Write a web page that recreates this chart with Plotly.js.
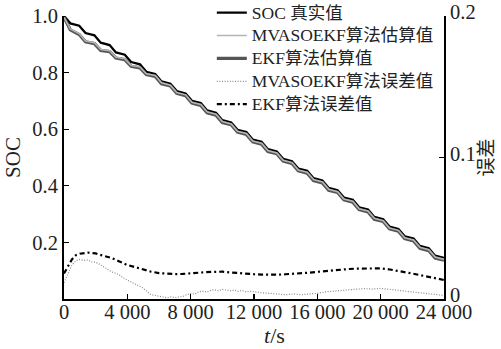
<!DOCTYPE html>
<html>
<head>
<meta charset="utf-8">
<script src="https://cdn.plot.ly/plotly-3.0.1.min.js"></script>
<style>
html,body{margin:0;padding:0;background:#fff;}
#chart{width:501px;height:349px;}
</style>
</head>
<body>
<div id="chart"></div>
<script>
// ---- data ----
const seriesNames = ["SOC 真实值", "MVASOEKF算法估算值", "EKF算法估算值", "MVASOEKF算法误差值", "EKF算法误差值"];

// SOC curves (corner points of the stepped discharge)
const tSoc = [0,400,960,1360,1920,2320,2880,3280,3840,4240,4800,5200,5760,6160,6720,7120,7680,8080,8640,9040,
  9600,10000,10560,10960,11520,11920,12480,12880,13440,13840,14400,14800,15360,15760,16320,16720,17280,17680,
  18240,18640,19200,19600,20160,20560,21120,21520,22080,22480,23040,23440,24000];

const socTrue = [1.0000,0.9740,0.9658,0.9398,0.9316,0.9056,0.8974,0.8714,0.8632,0.8372,0.8290,0.8030,0.7948,0.7688,
  0.7606,0.7346,0.7264,0.7004,0.6922,0.6662,0.6580,0.6320,0.6238,0.5978,0.5896,0.5636,0.5554,0.5294,0.5212,0.4952,
  0.4870,0.4610,0.4528,0.4268,0.4186,0.3926,0.3844,0.3584,0.3502,0.3242,0.3160,0.2900,0.2818,0.2558,0.2476,0.2216,
  0.2134,0.1874,0.1792,0.1532,0.1450];

const socMva = [0.9950,0.9540,0.9378,0.9118,0.9056,0.8816,0.8774,0.8544,0.8492,0.8252,0.8200,0.7960,0.7898,0.7638,
  0.7556,0.7296,0.7214,0.6954,0.6872,0.6612,0.6530,0.6270,0.6188,0.5928,0.5846,0.5586,0.5504,0.5244,0.5162,0.4902,
  0.4820,0.4560,0.4478,0.4218,0.4136,0.3876,0.3794,0.3534,0.3452,0.3192,0.3110,0.2850,0.2768,0.2508,0.2426,0.2166,
  0.2084,0.1824,0.1742,0.1482,0.1400];

const socEkf = [0.9950,0.9510,0.9348,0.9088,0.9026,0.8786,0.8744,0.8514,0.8462,0.8222,0.8170,0.7930,0.7868,0.7608,
  0.7526,0.7266,0.7184,0.6924,0.6842,0.6582,0.6500,0.6240,0.6158,0.5898,0.5816,0.5556,0.5474,0.5214,0.5132,0.4872,
  0.4790,0.4530,0.4448,0.4188,0.4106,0.3846,0.3764,0.3504,0.3422,0.3162,0.3080,0.2820,0.2738,0.2478,0.2396,0.2136,
  0.2054,0.1794,0.1712,0.1452,0.1370];

// error curves (right axis)
const tErrMva = [0,250,500,750,1000,1250,1500,1750,2000,2250,2500,2750,3000,3250,3500,3750,4000,4250,4500,4750,
  5000,5250,5500,5750,6000,6250,6500,6750,7000,7250,7500,7750,8000,8250,8500,8750,9000,9250,9500,9750,10000,
  10250,10500,10750,11000,11250,11500,11750,12000,12500,13000,13500,14000,14500,15000,15500,16000,16500,17000,
  17500,18000,18500,19000,19500,20000,20500,21000,21500,22000,22500,23000,23500,24000];
const errMva = [0.0115,0.0180,0.0240,0.0270,0.0280,0.0272,0.0276,0.0262,0.0260,0.0245,0.0228,0.0215,0.0192,0.0182,
  0.0170,0.0148,0.0135,0.0122,0.0106,0.0092,0.0077,0.0052,0.0030,0.0026,0.0018,0.0014,0.0009,0.0015,0.0010,0.0016,
  0.0018,0.0030,0.0040,0.0034,0.0050,0.0056,0.0049,0.0060,0.0066,0.0058,0.0068,0.0063,0.0058,0.0064,0.0054,0.0060,
  0.0050,0.0055,0.0050,0.0044,0.0040,0.0035,0.0030,0.0036,0.0030,0.0036,0.0040,0.0050,0.0056,0.0061,0.0066,0.0070,
  0.0073,0.0070,0.0075,0.0069,0.0064,0.0060,0.0050,0.0046,0.0040,0.0031,0.0025];

const tErrEkf = [0,250,500,750,1000,1500,2000,2500,3000,3500,4000,4500,5000,5500,6000,6500,7000,7500,8000,8500,
  9000,9500,10000,10500,11000,11500,12000,12500,13000,13500,14000,14500,15000,15500,16000,16500,17000,17500,
  18000,18500,19000,19500,20000,20500,21000,21500,22000,22500,23000,23500,24000];
const errEkf = [0.0180,0.0230,0.0280,0.0310,0.0320,0.0328,0.0322,0.0305,0.0290,0.0265,0.0240,0.0225,0.0208,0.0193,
  0.0183,0.0178,0.0176,0.0177,0.0182,0.0188,0.0190,0.0192,0.0193,0.0188,0.0182,0.0178,0.0175,0.0172,0.0170,0.0172,
  0.0175,0.0178,0.0180,0.0186,0.0192,0.0198,0.0203,0.0208,0.0212,0.0215,0.0217,0.0218,0.0216,0.0210,0.0198,0.0190,
  0.0180,0.0170,0.0158,0.0146,0.0134];

const xTickVals = [0,4000,8000,12000,16000,20000,24000];
const xTickText = ["0","4 000","8 000","12 000","16 000","20 000","24 000"];
const yTickVals = [0.2,0.4,0.6,0.8,1.0];
const yTickText = ["0.2","0.4","0.6","0.8","1.0"];
const y2TickVals = [0,0.1,0.2];
const y2TickText = ["0","0.1","0.2"];

// ---- chart ----
const serif = "Liberation Serif, Times New Roman, Noto Sans CJK SC, serif";
const lg = n => '<span style="font-size:17.5px">' + n + '</span>';
const traces = [
  {x:tSoc, y:socTrue, name:lg(seriesNames[0]), mode:"lines", line:{color:"#000000", width:2.3}, legendrank:1},
  {x:tSoc, y:socEkf, name:lg(seriesNames[2]), mode:"lines", line:{color:"#555555", width:3.3}, legendrank:3},
  {x:tSoc, y:socMva, name:lg(seriesNames[1]), mode:"lines", line:{color:"#b4b4b4", width:1.6}, legendrank:2},
  {x:tErrMva, y:errMva, name:lg(seriesNames[3]), mode:"lines", yaxis:"y2", line:{color:"#8a8a8a", width:1.2, dash:"1px,1.6px"}, legendrank:4},
  {x:tErrEkf, y:errEkf, name:lg(seriesNames[4]), mode:"lines", yaxis:"y2", line:{color:"#000000", width:2.2, dash:"5px,3px,2px,3px"}, legendrank:5}
];

const tf = {family:serif, size:20.5, color:"#222"};
const layout = {
  width:501, height:349,
  margin:{l:64, r:57, t:16, b:50, autoexpand:false},
  paper_bgcolor:"#fff", plot_bgcolor:"#fff",
  font:{family:serif, size:19, color:"#222"},
  showlegend:true,
  legend:{x:0.389, xanchor:"left", y:1.07, yanchor:"top", bgcolor:"rgba(0,0,0,0)", borderwidth:0,
          font:{family:serif, size:15.3, color:"#222"}, tracegroupgap:0},
  xaxis:{range:[0,24000], tickvals:xTickVals, ticktext:xTickText, ticks:"inside", ticklen:5, tickwidth:1.3,
         tickcolor:"#000", showline:true, linecolor:"#000", linewidth:2, showgrid:false, zeroline:false,
         tickfont:tf, ticklabelstandoff:-7},
  yaxis:{range:[0,1.0], tickvals:yTickVals, ticktext:yTickText, ticks:"inside", ticklen:5, tickwidth:1.3,
         tickcolor:"#000", showline:true, linecolor:"#000", linewidth:2, showgrid:false, zeroline:false,
         tickfont:tf,
         title:{text:"SOC", font:{family:serif, size:21, color:"#222"}, standoff:6}},
  yaxis2:{range:[0,0.2], overlaying:"y", side:"right", tickvals:y2TickVals, ticktext:y2TickText, ticks:"inside",
          ticklen:5, tickwidth:1.3, tickcolor:"#000", showline:true, linecolor:"#000", linewidth:2,
          showgrid:false, zeroline:false, tickfont:tf, ticklabelshift:-4,
          title:{text:"误差", font:{family:serif, size:19, color:"#222"}, standoff:4}},
  annotations:[{text:"<i>t</i>/s", xref:"paper", yref:"paper", x:0.555, y:-0.13, xanchor:"center", yanchor:"middle",
                showarrow:false, font:{family:serif, size:22, color:"#222"}}]
};

Plotly.newPlot("chart", traces, layout, {displayModeBar:false, staticPlot:true});
</script>
</body>
</html>
